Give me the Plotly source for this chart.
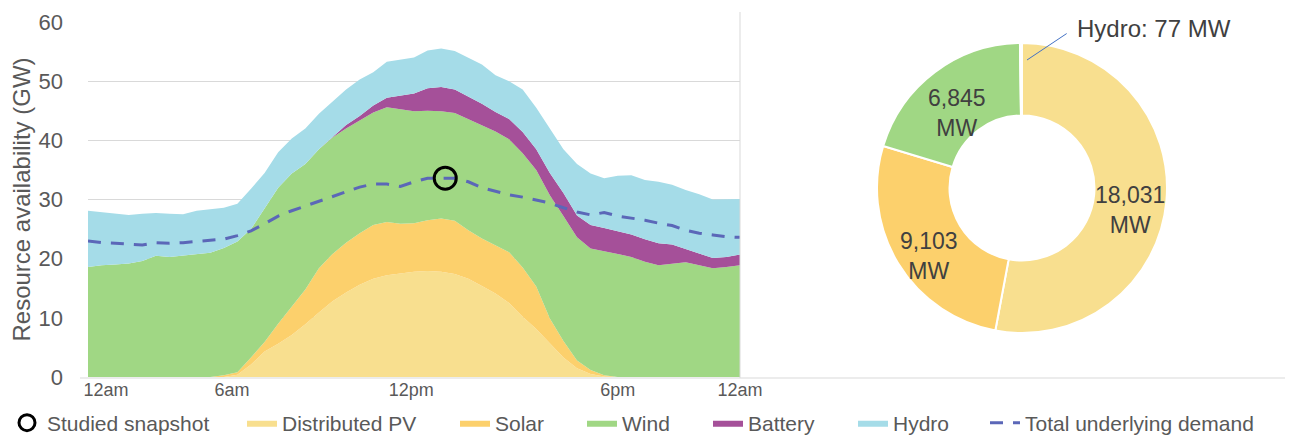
import math
import plotly.graph_objects as go

# half-hourly points across the day (hours)
hours = [i / 2 for i in range(49)]

distributed_pv = [0, 0, 0, 0, 0, 0, 0, 0, 0, 0, 0, 0.4, 2.1, 4.3, 5.6, 7.1, 8.9, 10.9, 12.8, 14.3,
                  15.6, 16.6, 17.2, 17.5, 17.8, 17.9, 17.8, 17.4, 16.6, 15.4, 14.1, 12.5, 10.2, 8.1,
                  5.7, 3.3, 1.5, 0.5, 0.1, 0, 0, 0, 0, 0, 0, 0, 0, 0, 0]
solar = [0, 0, 0, 0, 0, 0, 0, 0, 0, 0, 0.3, 0.4, 1.2, 1.6, 3.4, 4.8, 5.9, 7.5, 8.0, 8.4,
         8.7, 9.1, 9.0, 8.4, 8.2, 8.6, 9.0, 9.0, 8.2, 8.0, 8.2, 8.6, 8.3, 7.2,
         4.2, 2.8, 1.3, 0.7, 0.2, 0, 0, 0, 0, 0, 0, 0, 0, 0, 0]
wind = [18.6, 18.9, 19.0, 19.2, 19.6, 20.5, 20.3, 20.5, 20.8, 21.0, 21.5, 22.1, 21.7, 22.7,
        23.0, 22.5, 21.2, 20.1, 19.7, 19.3, 19.0, 19.0, 19.4, 19.4, 18.9, 18.5, 18.1, 18.2,
        18.8, 19.2, 19.2, 19.1, 19.3, 19.7, 20.8, 21.1, 20.8, 20.5, 21.0, 20.8, 20.3, 19.5,
        18.9, 19.1, 19.4, 18.9, 18.4, 18.6, 18.9]
battery = [0, 0, 0, 0, 0, 0, 0, 0, 0, 0, 0, 0, 0, 0, 0, 0, 0, 0, 0, 0.6,
           0.8, 1.2, 1.6, 2.2, 3.0, 3.8, 4.1, 4.0, 3.8, 3.6, 3.3, 3.4, 3.6, 3.5,
           3.8, 3.9, 3.7, 4.0, 3.9, 3.9, 3.8, 3.8, 3.7, 3.3, 2.2, 1.9, 1.7, 1.7, 1.8]
hydro = [9.5, 9.0, 8.7, 8.2, 8.0, 7.2, 7.3, 7.0, 7.3, 7.3, 6.8, 6.4, 6.8, 5.9, 6.0, 5.9,
         6.0, 6.0, 6.0, 6.0, 6.2, 5.6, 6.1, 6.1, 6.1, 6.4, 6.5, 6.5, 6.6, 6.6, 6.2, 6.4,
         7.2, 7.0, 7.5, 7.4, 8.7, 8.7, 8.4, 9.3, 10.0, 10.0, 10.4, 10.1, 10.0, 10.1, 9.9,
         9.8, 9.4]
demand = [23.0, 22.7, 22.6, 22.4, 22.3, 22.7, 22.6, 22.7, 22.9, 23.0, 23.3, 23.9, 24.7, 25.9,
          27.2, 28.1, 28.9, 29.7, 30.6, 31.3, 32.1, 32.6, 32.6, 32.2, 33.0, 33.6, 33.6, 33.6,
          33.0, 32.0, 31.4, 30.8, 30.4, 29.9, 29.4, 28.6, 27.9, 27.4, 27.8, 27.2, 26.9, 26.5,
          26.0, 25.6, 24.8, 24.3, 24.0, 23.7, 23.6]

snapshot_hour = [13.15]
snapshot_gw = [33.6]

tick_hours = [0.66, 5.3, 11.9, 19.5, 24.0]
tick_labels = ["12am", "6am", "12pm", "6pm", "12am"]

pie_labels = ["Distributed PV", "Solar", "Wind", "Hydro"]
pie_mw = [18031, 9103, 6845, 77]

C_DPV = "#F8DF8F"
C_SOLAR = "#FCD06C"
C_WIND = "#A0D784"
C_BATT = "#A55099"
C_HYDRO = "#A5DCE8"
C_DEMAND = "#5B67B8"
GREY = "#595959"
DARK = "#404040"
GRID = "#D9D9D9"
FONT = "Liberation Sans, Arial, sans-serif"

# the page body adds an 8px margin, so the figure is a bit smaller than the window
PAD = 8
W, H = 1299 - PAD, 437 - PAD


def px_x(p):
    return (p - PAD) / W


def px_y(p):
    return (H - (p - PAD)) / H


# donut placement (window pixels)
PIE_CX, PIE_CY, PIE_R, HOLE = 1022, 188, 145, 0.5

fig = go.Figure()

areas = [("Distributed PV", distributed_pv, C_DPV, "legend2"),
         ("Solar", solar, C_SOLAR, "legend3"),
         ("Wind", wind, C_WIND, "legend4"),
         ("Battery", battery, C_BATT, "legend5"),
         ("Hydro", hydro, C_HYDRO, "legend6")]
for name, vals, col, lg in areas:
    fig.add_trace(go.Scatter(x=hours, y=vals, name=name, stackgroup="one", mode="lines",
                             line=dict(width=0, color=col), fillcolor=col, legend=lg))

fig.add_trace(go.Scatter(x=hours, y=demand, mode="lines", name="Total underlying demand",
                         line=dict(color=C_DEMAND, width=3, dash="13px,10px"), legend="legend7"))

fig.add_trace(go.Scatter(x=snapshot_hour, y=snapshot_gw, mode="markers", name="Studied snapshot",
                         marker=dict(symbol="circle-open", size=22, color="black", line=dict(width=3)),
                         legend="legend"))

fig.add_trace(go.Pie(labels=pie_labels, values=pie_mw, sort=False, direction="clockwise", rotation=0,
                     hole=HOLE, showlegend=False, textinfo="none",
                     marker=dict(colors=[C_DPV, C_SOLAR, C_WIND, C_HYDRO], line=dict(color="white", width=2)),
                     domain=dict(x=[px_x(PIE_CX - PIE_R), px_x(PIE_CX + PIE_R)],
                                 y=[px_y(PIE_CY + PIE_R), px_y(PIE_CY - PIE_R)])))

# slice value labels, set in the middle of the ring at each slice's mid angle
annotations = []
total = sum(pie_mw)
r_mid = PIE_R * (1 + HOLE) / 2
cum = 0
for label, v in zip(pie_labels, pie_mw):
    ang = 2 * math.pi * (cum + v / 2) / total
    cum += v
    if label == "Hydro":
        continue
    lx = PIE_CX + r_mid * math.sin(ang)
    ly = PIE_CY - r_mid * math.cos(ang) + 12
    annotations.append(dict(x=px_x(lx), y=px_y(ly), xref="paper", yref="paper", showarrow=False,
                            text="{:,}<br>MW".format(v), font=dict(size=23, color=DARK),
                            xanchor="center", yanchor="middle"))

annotations.append(dict(x=px_x(1027), y=px_y(60), xref="paper", yref="paper", text="Hydro: 77 MW",
                        showarrow=True, arrowhead=0, arrowwidth=1, arrowcolor="#4472C4", ax=48, ay=-32,
                        startstandoff=10, xanchor="left", font=dict(size=24, color=DARK)))

fig.update_layout(
    width=W, height=H,
    margin=dict(l=0, r=0, t=0, b=0, autoexpand=False),
    plot_bgcolor="white", paper_bgcolor="white",
    font=dict(family=FONT, color=GREY),
    xaxis=dict(domain=[px_x(88), px_x(740)], range=[0, 24], tickvals=tick_hours, ticktext=tick_labels,
               showgrid=False, showline=False, zeroline=False, tickfont=dict(size=18, color=GREY),
               automargin=False),
    yaxis=dict(domain=[px_y(377), px_y(22)], range=[0, 60], dtick=10, showgrid=True, gridcolor=GRID,
               zeroline=False, showline=False, tickfont=dict(size=22, color=GREY), ticklabelstandoff=24,
               automargin=False,
               title=dict(text="Resource availability (GW)", font=dict(size=24, color=GREY), standoff=2)),
    shapes=[
        dict(type="line", xref="paper", yref="paper", x0=px_x(80), x1=px_x(1285), y0=px_y(378), y1=px_y(378),
             line=dict(color=GRID, width=1)),
        dict(type="line", xref="paper", yref="paper", x0=px_x(740), x1=px_x(740), y0=px_y(12), y1=px_y(378),
             line=dict(color=GRID, width=1)),
    ],
    annotations=annotations,
)

legend_x = [7, 242, 455, 582, 708, 853, 985]
for i, lx in enumerate(legend_x):
    key = "legend" if i == 0 else "legend%d" % (i + 1)
    fig.update_layout({key: dict(x=px_x(lx), y=px_y(423), xanchor="left", yanchor="middle",
                                 orientation="h", bgcolor="rgba(0,0,0,0)",
                                 font=dict(size=21, color=GREY, family=FONT))})

fig.write_html("out.html")
